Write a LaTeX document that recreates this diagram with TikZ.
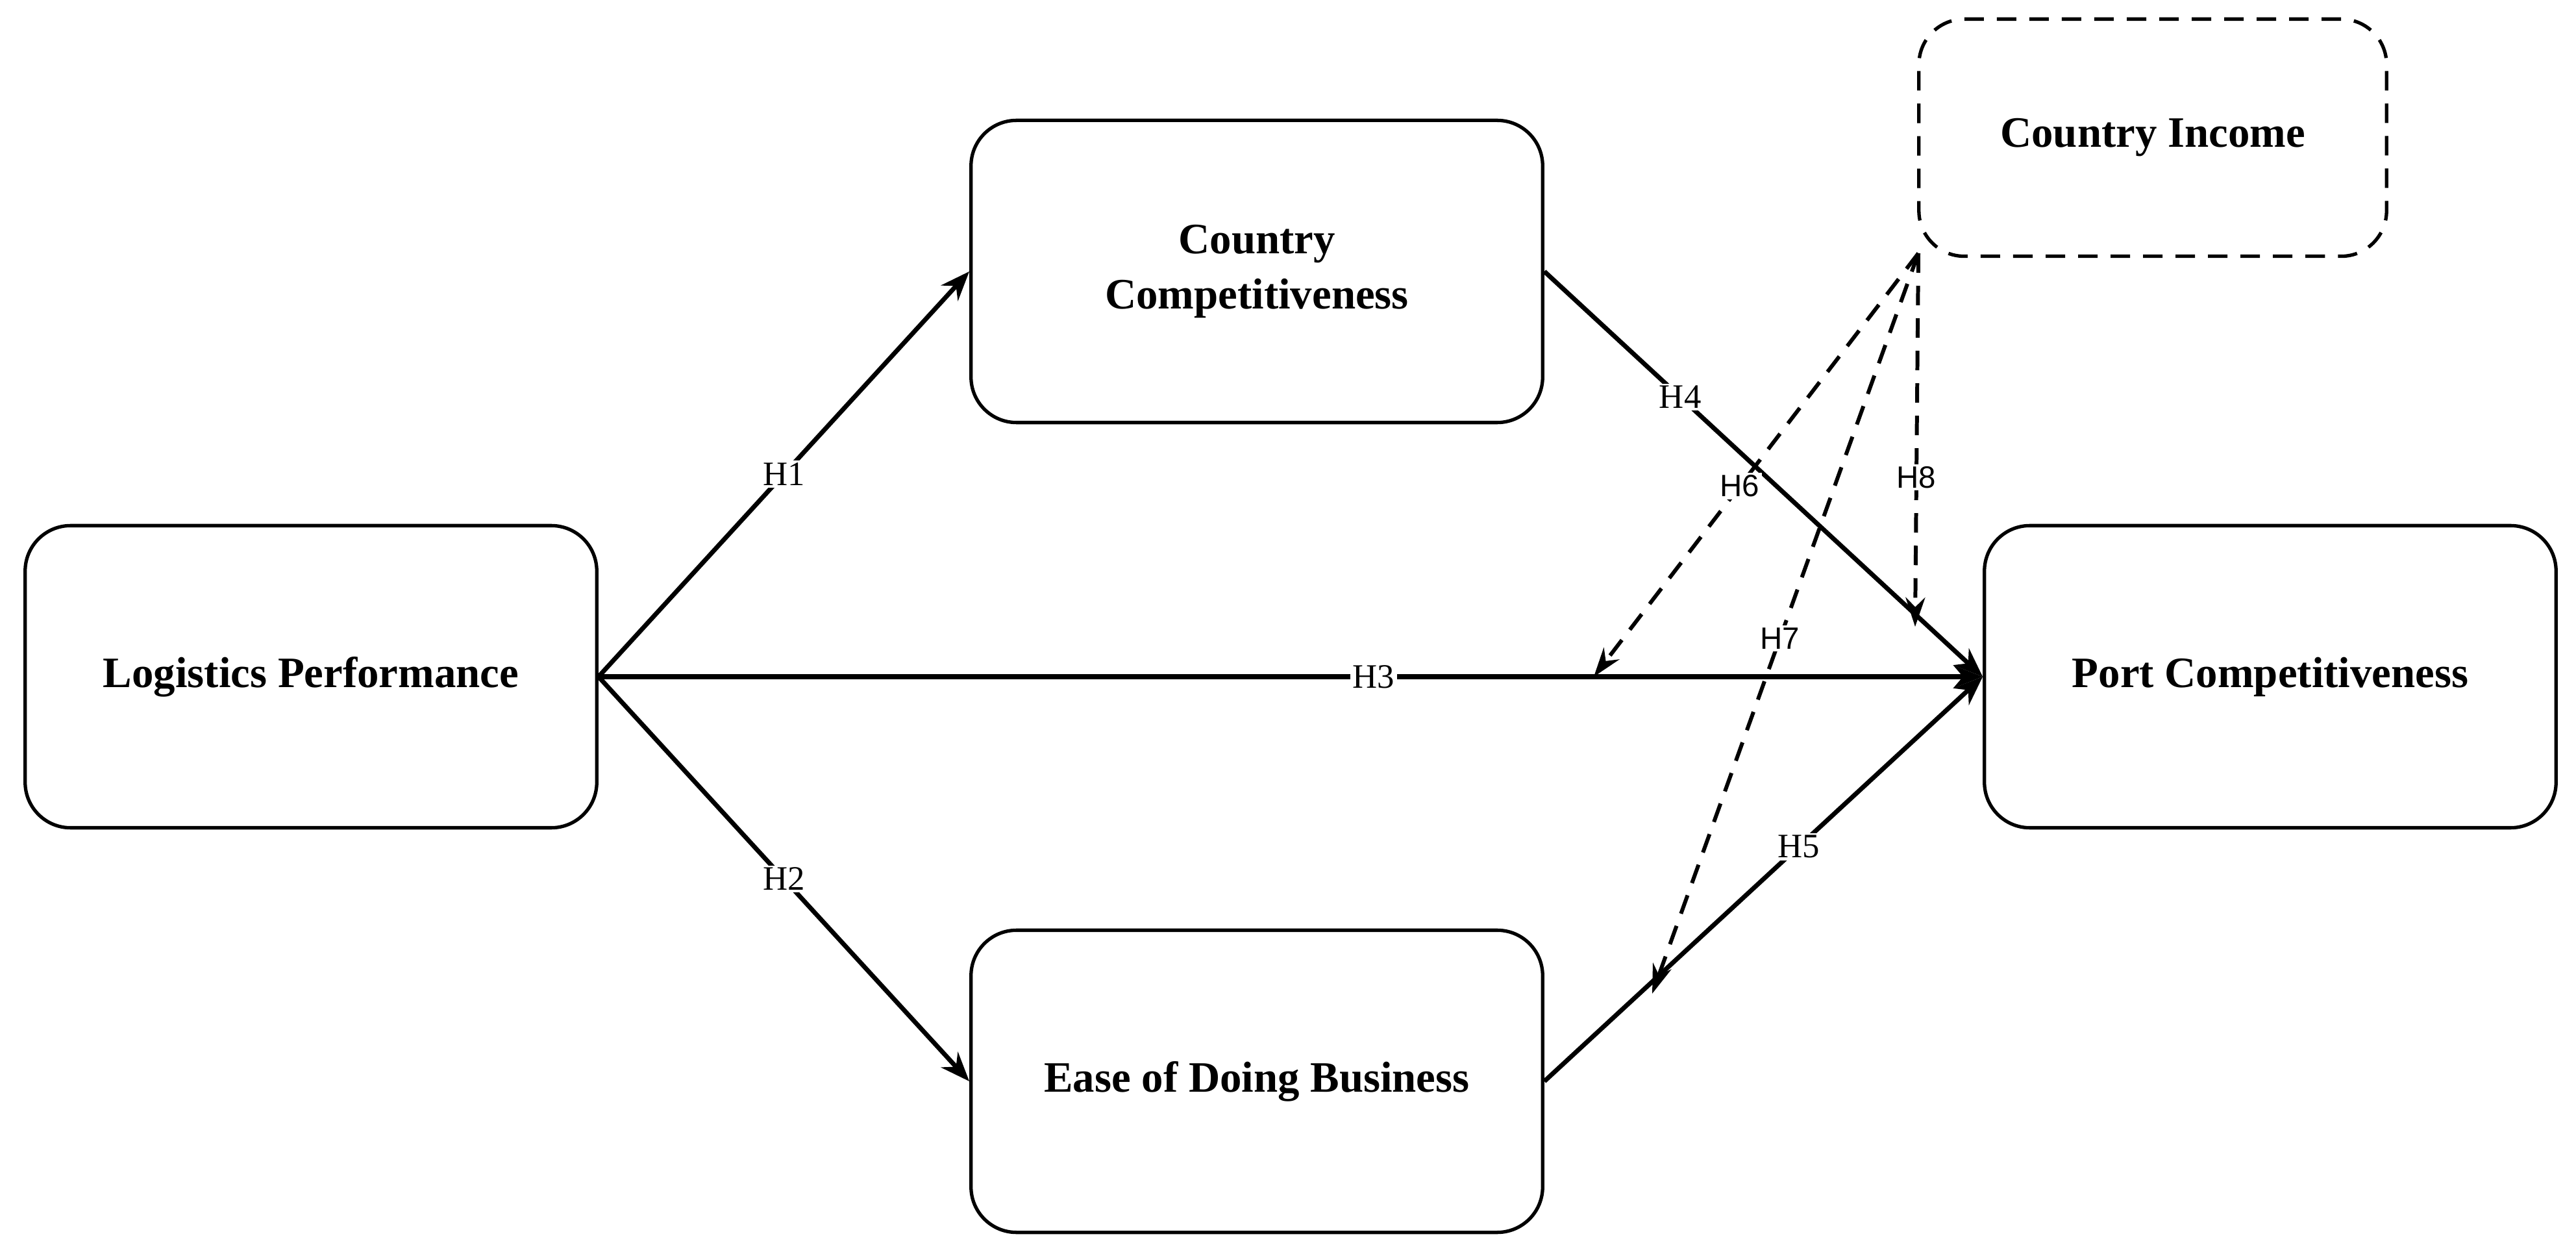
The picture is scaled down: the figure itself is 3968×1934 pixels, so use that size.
\documentclass[tikz,border=0pt]{standalone}
\usepackage{fontspec}
\setmainfont{Liberation Serif}
\newfontfamily\lab{Liberation Sans}
\usetikzlibrary{arrows.meta}
\begin{document}
\begin{tikzpicture}[x=0.01cm,y=-0.01cm,
 box/.style={draw,line width=1.5pt,rounded corners=0.7cm,minimum width=8.8cm,minimum height=4.65cm,align=center,font=\fontsize{19}{24}\selectfont\bfseries},
 conn/.style={line width=2pt,-{Stealth[length=0.45cm,width=0.35cm]}},
 dconn/.style={line width=1.7pt,dashed,dash pattern=on 0.3cm off 0.2cm,-{Stealth[length=0.45cm,width=0.3cm]}},
 hl/.style={fill=white,inner sep=1pt,font=\fontsize{15}{18}\selectfont},
 hs/.style={fill=white,inner sep=1pt,font=\lab\fontsize{13.5}{16}\selectfont}]
\useasboundingbox (0,0) rectangle (3968,1934);
\node[box] (lp) at (479,1042) {Logistics Performance};
\node[box] (cc) at (1936,418) {Country\\Competitiveness};
\node[box] (eb) at (1936,1665) {Ease of Doing Business};
\node[box] (pc) at (3497,1042) {Port Competitiveness};
\node[box,dashed,dash pattern=on 0.3cm off 0.2cm,minimum width=7.2cm,minimum height=3.65cm] (ci) at (3316,212) {Country Income};
\coordinate (s) at (2955,390);
\coordinate (e6) at (2455,1042);
\coordinate (e7) at (2545,1530);
\coordinate (e8) at (2950,965);
\draw[conn] (lp.east) -- (cc.west) node[hl,pos=0.5] {H1};
\draw[conn] (lp.east) -- (eb.west) node[hl,pos=0.5] {H2};
\draw[conn] (lp.east) -- (pc.west) node[hl,pos=0.56] {H3};
\draw[conn] (cc.east) -- (pc.west) node[hl,pos=0.31] {H4};
\draw[conn] (eb.east) -- (pc.west) node[hl,pos=0.58] {H5};
\draw[dconn] (s) -- (e6) node[hs,pos=0.55] {H6};
\draw[dconn] (s) -- (e7) node[hs,pos=0.52] {H7};
\draw[dconn] (s) -- (e8) node[hs,pos=0.6] {H8};
\end{tikzpicture}
\end{document}
